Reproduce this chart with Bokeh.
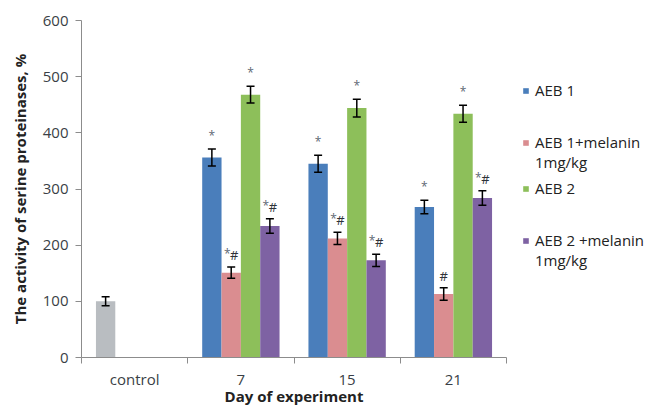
from bokeh.plotting import figure
from bokeh.layouts import row
from bokeh.models import (ColumnDataSource, Range1d, FixedTicker, Whisker, TeeHead,
                          Legend, LegendItem)
from bokeh.core.properties import value
from bokeh.embed import file_html
from bokeh.resources import INLINE

# ---------------- data ----------------
categories = ["control", "7", "15", "21"]
series_names = ["AEB 1", "AEB 1+melanin\n1mg/kg", "AEB 2", "AEB 2 +melanin\n1mg/kg"]

control_value = [100]
control_err = [8]

aeb1 = [356, 345, 268]
aeb1_err = [15, 15, 12]
aeb1_mel = [151, 212, 113]
aeb1_mel_err = [10, 11, 11]
aeb2 = [468, 444, 434]
aeb2_err = [15, 16, 15]
aeb2_mel = [234, 173, 284]
aeb2_mel_err = [13, 11, 13]

marks_aeb1 = ["*", "*", "*"]
marks_aeb1_mel = ["*#", "*#", "#"]
marks_aeb2 = ["*", "*", "*"]
marks_aeb2_mel = ["*#", "*#", "*#"]

y_ticks = [0, 100, 200, 300, 400, 500, 600]

# ---------------- style ----------------
colors = ["#4A7EBB", "#DA8D90", "#8DBF5A", "#7E62A3"]
control_color = "#B9BDC1"
axis_color = "#8C8C8C"
text_color = "#3A3F46"
FONT = "Open Sans"
slot = 0.182  # bar width in category units

p = figure(width=508, height=408, output_backend="svg", toolbar_location=None,
           x_range=Range1d(0, len(categories)), y_range=Range1d(0, 600),
           min_border_left=81, min_border_right=2, min_border_top=20,
           min_border_bottom=48)
p.outline_line_color = None
p.xgrid.visible = False
p.ygrid.visible = False
p.background_fill_color = "white"
p.border_fill_color = "white"

def xpos(cat_index, k):
    return cat_index + 0.5 + (k - 1.5) * slot

def tee():
    return TeeHead(size=8, line_width=1.5, line_color="black")

# control bar (first slot of first category)
csrc = ColumnDataSource(dict(x=[xpos(0, 0)], top=control_value,
                             upper=[v + e for v, e in zip(control_value, control_err)],
                             lower=[v - e for v, e in zip(control_value, control_err)]))
p.vbar(x="x", top="top", width=slot, source=csrc, fill_color=control_color, line_color=None)
p.add_layout(Whisker(base="x", upper="upper", lower="lower", source=csrc, level="overlay",
                     line_color="black", line_width=1.5, upper_head=tee(), lower_head=tee()))

all_vals = [aeb1, aeb1_mel, aeb2, aeb2_mel]
all_errs = [aeb1_err, aeb1_mel_err, aeb2_err, aeb2_mel_err]
all_marks = [marks_aeb1, marks_aeb1_mel, marks_aeb2, marks_aeb2_mel]

sources = []
for k, (vals, errs, marks) in enumerate(zip(all_vals, all_errs, all_marks)):
    xs = [xpos(i + 1, k) for i in range(len(vals))]
    src = ColumnDataSource(dict(
        x=xs, top=vals,
        upper=[v + e for v, e in zip(vals, errs)],
        lower=[v - e for v, e in zip(vals, errs)],
    ))
    sources.append(src)
    p.vbar(x="x", top="top", width=slot, source=src, fill_color=colors[k], line_color=None)
    p.add_layout(Whisker(base="x", upper="upper", lower="lower", source=src, level="overlay",
                         line_color="black", line_width=1.5, upper_head=tee(), lower_head=tee()))
    # significance marks: stars (grey) and hashes (dark)
    star_x, star_y, star_off = [], [], []
    hash_x, hash_y, hash_off = [], [], []
    for x, v, e, m in zip(xs, vals, errs, marks):
        if "*" in m:
            star_x.append(x); star_y.append(v + e)
            star_off.append(-4 if "#" in m else 0)
        if "#" in m:
            hash_x.append(x); hash_y.append(v + e)
            hash_off.append(3 if "*" in m else 0)
    if star_x:
        p.text(x=star_x, y=star_y, text=["*"] * len(star_x), x_offset=star_off, y_offset=-5,
               text_align="center", text_baseline="bottom", text_font=value(FONT),
               text_font_size="12px", text_color="#5E6874")
    if hash_x:
        p.text(x=hash_x, y=hash_y, text=["#"] * len(hash_x), x_offset=hash_off, y_offset=-3,
               text_align="center", text_baseline="bottom", text_font=value(FONT),
               text_font_size="13px", text_color="#2E3238")

# ---------------- axes ----------------
p.yaxis.ticker = FixedTicker(ticks=y_ticks)
p.yaxis.axis_label = "The activity of serine proteinases, %"
p.yaxis.axis_label_text_font = FONT
p.yaxis.axis_label_text_font_style = "bold"
p.yaxis.axis_label_text_font_size = "15px"
p.yaxis.axis_label_text_color = "#222222"
p.yaxis.axis_label_standoff = 10
p.yaxis.major_label_text_font = FONT
p.yaxis.major_label_text_font_size = "15px"
p.yaxis.major_label_text_color = text_color
p.yaxis.major_label_standoff = 7
p.yaxis.major_tick_in = 0
p.yaxis.major_tick_out = 6
p.yaxis.minor_tick_line_color = None
p.yaxis.axis_line_color = axis_color
p.yaxis.major_tick_line_color = axis_color

centers = [i + 0.5 for i in range(len(categories))]
bounds = [float(i) for i in range(len(categories) + 1)]
p.xaxis.ticker = FixedTicker(ticks=centers, minor_ticks=bounds)
p.xaxis.major_label_overrides = {c: lab for c, lab in zip(centers, categories)}
p.xaxis.axis_label = "Day of experiment"
p.xaxis.axis_label_text_font = FONT
p.xaxis.axis_label_text_font_style = "bold"
p.xaxis.axis_label_text_font_size = "15px"
p.xaxis.axis_label_text_color = "#222222"
p.xaxis.axis_label_standoff = -6
p.xaxis.major_label_text_font = FONT
p.xaxis.major_label_text_font_size = "15px"
p.xaxis.major_label_text_color = text_color
p.xaxis.major_label_standoff = 5
p.xaxis.major_tick_in = 0
p.xaxis.major_tick_out = 0
p.xaxis.minor_tick_in = 0
p.xaxis.minor_tick_out = 6
p.xaxis.minor_tick_line_color = axis_color
p.xaxis.axis_line_color = axis_color

# ---------------- legend (separate panel to the right) ----------------
lf = figure(width=157, height=408, output_backend="svg", toolbar_location=None,
            x_axis_location=None, y_axis_location=None,
            x_range=Range1d(0, 1), y_range=Range1d(0, 1),
            min_border=0)
lf.outline_line_color = None
lf.xgrid.visible = False
lf.ygrid.visible = False

# legend line layout: (bottom offset in px from frame bottom) for each text line
line_bottoms = [[257], [205, 185], [159], [107, 87]]

def make_legend(label, renderer, bottom):
    return Legend(items=[LegendItem(label=label, renderers=[renderer])],
                  location=(14, bottom),
                  padding=0, margin=0, spacing=0,
                  border_line_color=None, background_fill_alpha=0,
                  glyph_width=7, glyph_height=7, label_standoff=6, label_height=18,
                  label_text_font=FONT, label_text_font_size="15px",
                  label_text_color="#222222", label_text_line_height=1.3,
                  inactive_fill_alpha=0)

for k, name in enumerate(series_names):
    lines = name.split("\n")
    r = lf.vbar(x="x", top="top", width=slot, source=sources[k],
                fill_color=colors[k], line_color=None, visible=False)
    lf.add_layout(make_legend(lines[0], r, line_bottoms[k][0]), "center")
    if len(lines) > 1:
        blank = lf.vbar(x="x", top="top", width=slot, source=sources[k],
                        fill_alpha=0, line_alpha=0, visible=False)
        for extra, b in zip(lines[1:], line_bottoms[k][1:]):
            lf.add_layout(make_legend(extra, blank, b), "center")

layout = row(p, lf, spacing=0)
open("out.html", "w").write(file_html(layout, INLINE))
